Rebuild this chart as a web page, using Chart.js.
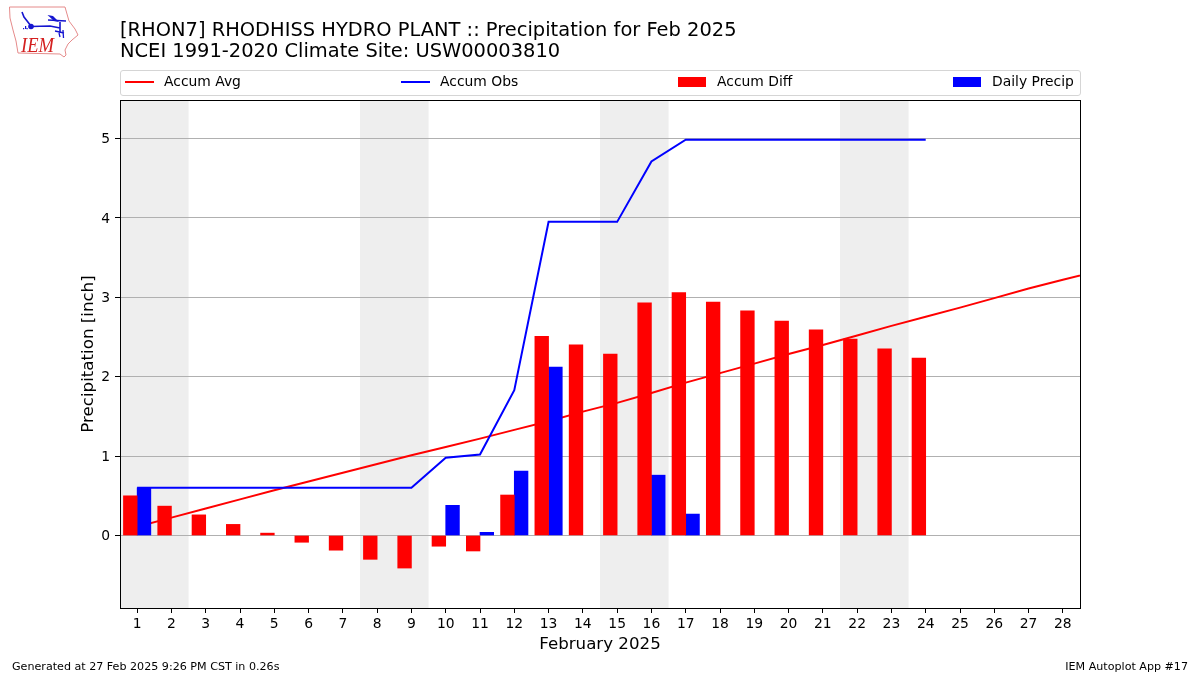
<!DOCTYPE html>
<html>
<head>
<meta charset="utf-8">
<script src="https://cdn.jsdelivr.net/npm/chart.js@4"></script>
<style>
html,body{margin:0;padding:0;background:#fff;width:1200px;height:675px;overflow:hidden;font-family:"DejaVu Sans",sans-serif;color:#000}
#wrap{position:relative;width:1200px;height:675px}
canvas{position:absolute;left:0;top:0}
#legend{position:absolute;left:120px;top:70px;width:959px;height:24px;border:1px solid #d5d5d5;border-radius:3px;background:#fff;font-size:13.89px;line-height:24px}
.li{position:absolute;top:0;height:24px;white-space:nowrap}
.li i{position:absolute;left:0;width:29px;display:block}
.li span{position:absolute;left:39px;top:-2px}
.line i{top:10px;height:2px}
.bar i{top:6px;height:10px;width:28px}
.foot{position:absolute;top:660px;font-size:11.11px;line-height:13px;white-space:nowrap}
#logo{position:absolute;left:0;top:0}
</style>
</head>
<body>
<div id="wrap">
<canvas id="c" width="1200" height="675"></canvas>
<svg id="logo" width="90" height="62" viewBox="0 0 90 62">
<path d="M9.5 7 L65 7 L67 14 L69 21 L75 29 L78 35 L72 40 L68 44 L65 50 L66 55 L64 57 L60 54 L18 53 L16 41 L13 30 L10 18 Z" fill="none" stroke="#e58a8a" stroke-width="1"/>
<path d="M31 26.5 L50 26 L60 28 M60 22 L60 33 M48 20 L66 21 M22 12 L24 17 L31 26" fill="none" stroke="#1515d0" stroke-width="1.6"/>
<path d="M47.5 15 L53 16 L59 22 L54 21 Z" fill="#1515d0"/>
<circle cx="31" cy="26.5" r="2.8" fill="#1515d0"/>
<path d="M55 31 L64 33 M59 33 L60 37 M63 30 L63.5 38" stroke="#1515d0" stroke-width="1.3" fill="none"/>
<path d="M23 28 h1.2 v1.2 h-1.2z M25 26 h1.2 v3 h-1.2z M26.5 28 h1.2 v1.2 h-1.2z" fill="#1515d0"/>
<text x="21" y="52" font-family="Liberation Serif" font-style="italic" font-size="22" textLength="33" lengthAdjust="spacingAndGlyphs" fill="#d42020">IEM</text>
</svg>
<div id="legend"></div>
<div class="foot" style="left:12px">Generated at 27 Feb 2025 9:26 PM CST in 0.26s</div>
<div class="foot" style="right:12px">IEM Autoplot App #17</div>
</div>
<script>
const days = [1,2,3,4,5,6,7,8,9,10,11,12,13,14,15,16,17,18,19,20,21,22,23,24,25,26,27,28];
const avgDays = [1,2,3,4,5,6,7,8,9,10,11,12,13,14,15,16,17,18,19,20,21,22,23,24,25,26,27,28,29];
const accumAvg = [0.11,0.225,0.34,0.455,0.57,0.68,0.79,0.90,1.01,1.115,1.22,1.33,1.44,1.56,1.67,1.795,1.925,2.045,2.165,2.285,2.40,2.52,2.64,2.755,2.87,2.99,3.11,3.22,3.33];
const accumObs = [0.6,0.6,0.6,0.6,0.6,0.6,0.6,0.6,0.6,0.98,1.02,1.83,3.95,3.95,3.95,4.71,4.985,4.985,4.985,4.985,4.985,4.985,4.985,4.985];
const accumDiff = [0.50,0.37,0.26,0.14,0.03,-0.085,-0.185,-0.30,-0.41,-0.135,-0.195,0.51,2.51,2.40,2.285,2.93,3.06,2.94,2.83,2.70,2.59,2.475,2.35,2.235];
const dailyPrecip = [0.60,null,null,null,null,null,null,null,null,0.38,0.04,0.81,2.12,null,null,0.76,0.27];
const weekendBands = [[0.5,2.5],[7.5,9.5],[14.5,16.5],[21.5,23.5]];
const legendItems = [
  {label:"Accum Avg",cls:"line",color:"#ff0000",left:4},
  {label:"Accum Obs",cls:"line",color:"#0000ff",left:280},
  {label:"Accum Diff",cls:"bar",color:"#ff0000",left:557},
  {label:"Daily Precip",cls:"bar",color:"#0000ff",left:832}
];
const titleLines = ["[RHON7] RHODHISS HYDRO PLANT :: Precipitation for Feb 2025","NCEI 1991-2020 Climate Site: USW00003810"];

const lg = document.getElementById('legend');
legendItems.forEach(it=>{
  const d=document.createElement('div');
  d.className='li '+it.cls; d.style.left=it.left+'px';
  d.innerHTML='<i style="background:'+it.color+'"></i><span>'+it.label+'</span>';
  lg.appendChild(d);
});

const pts=(xs,ys)=>ys.map((y,i)=>({x:xs[i],y:y}));
const background={
  id:'background',
  beforeDraw(chart){
    const {ctx,chartArea:a,scales:{x}}=chart;
    ctx.save();
    ctx.fillStyle='#fff';ctx.fillRect(0,0,chart.width,chart.height);
    ctx.fillStyle='#eeeeee';
    weekendBands.forEach(b=>{
      const l=x.getPixelForValue(b[0]),r=x.getPixelForValue(b[1]);
      ctx.fillRect(l,a.top,r-l,a.bottom-a.top);
    });
    ctx.restore();
  },
  afterDraw(chart){
    const {ctx,chartArea:a}=chart;
    ctx.save();ctx.strokeStyle='#000';ctx.lineWidth=1;
    ctx.strokeRect(Math.round(a.left)+0.5,Math.round(a.top)+0.5,Math.round(a.right-a.left),Math.round(a.bottom-a.top));
    ctx.restore();
  }
};
new Chart(document.getElementById('c'),{
  type:'bar',
  plugins:[background],
  data:{datasets:[
    {type:'line',label:'Accum Avg',data:pts(avgDays,accumAvg),borderColor:'#ff0000',borderWidth:2,pointRadius:0,tension:0,order:3},
    {type:'line',label:'Accum Obs',data:pts(days,accumObs),borderColor:'#0000ff',borderWidth:2,pointRadius:0,tension:0,order:2},
    {type:'bar',label:'Accum Diff',data:pts(days,accumDiff),backgroundColor:'#ff0000',barThickness:13.7,order:1},
    {type:'bar',label:'Daily Precip',data:pts(days,dailyPrecip),backgroundColor:'#0000ff',barThickness:13.7,order:1}
  ]},
  options:{
    responsive:false,animation:false,
    layout:{padding:{left:79,right:120,top:20,bottom:20}},
    plugins:{
      legend:{display:false},tooltip:{enabled:false},
      title:{display:true,text:titleLines,align:'start',fullSize:false,color:'#000',
        font:{family:'DejaVu Sans',size:19.45,weight:'normal',lineHeight:1.1},padding:{top:0,bottom:37.2}}
    },
    scales:{
      x:{type:'linear',min:0.5,max:28.5,offset:false,
        afterBuildTicks(s){s.ticks=days.map(v=>({value:v}));},
        afterFit(s){s.height=47;},
        grid:{offset:false,drawOnChartArea:false,drawTicks:true,tickColor:'#000',tickLength:5},
        border:{display:false},
        ticks:{color:'#000',autoSkip:false,maxRotation:0,font:{family:'DejaVu Sans',size:13.89},padding:3,callback:v=>String(v)},
        title:{display:true,text:'February 2025',color:'#000',font:{family:'DejaVu Sans',size:16.67},padding:{top:3,bottom:0}}
      },
      y:{type:'linear',min:-0.913,max:5.485,
        afterBuildTicks(s){s.ticks=[0,1,2,3,4,5].map(v=>({value:v}));},
        afterFit(s){s.width=41;},
        grid:{color:'#b0b0b0',lineWidth:1,drawTicks:true,tickColor:'#000',tickLength:5},
        border:{display:false},
        ticks:{color:'#000',font:{family:'DejaVu Sans',size:13.89},padding:5,labelOffset:1,callback:v=>String(v)},
        title:{display:true,text:'Precipitation [inch]',color:'#000',font:{family:'DejaVu Sans',size:16.67},padding:{top:0,bottom:0}}
      }
    }
  }
});
</script>
</body>
</html>
